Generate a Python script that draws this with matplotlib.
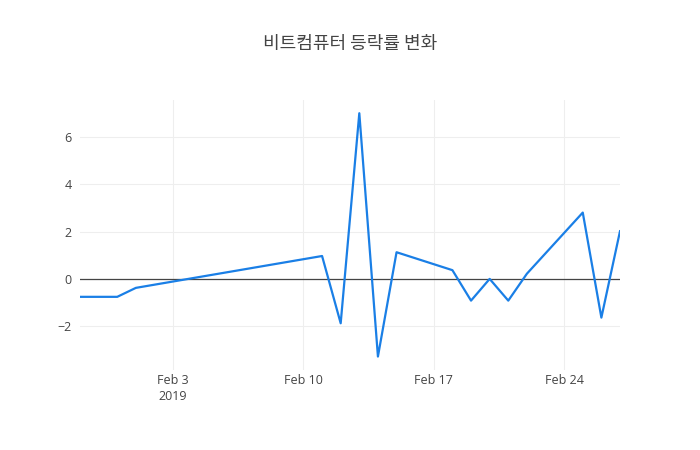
import matplotlib
matplotlib.use('Agg')
import matplotlib.pyplot as plt
import pandas as pd

plt.rcParams['font.family'] = ['Open Sans', 'Noto Sans CJK KR', 'DejaVu Sans']

# data
dates = ['2019-01-29', '2019-01-31', '2019-02-01', '2019-02-11', '2019-02-12',
         '2019-02-13', '2019-02-14', '2019-02-15', '2019-02-18', '2019-02-19',
         '2019-02-20', '2019-02-21', '2019-02-22', '2019-02-25', '2019-02-26',
         '2019-02-27']
change = [-0.76, -0.76, -0.38, 0.97, -1.88, 7.02, -3.29, 1.13, 0.37, -0.92,
          0.0, -0.92, 0.22, 2.81, -1.64, 2.02]
title = '비트컴퓨터 등락률 변화'
tick_dates = ['2019-02-03', '2019-02-10', '2019-02-17', '2019-02-24']
tick_labels = ['Feb 3\n2019', 'Feb 10', 'Feb 17', 'Feb 24']
y_ticks = [-2, 0, 2, 4, 6]

x = pd.to_datetime(dates)

fig = plt.figure(figsize=(7, 4.5), dpi=100)
ax = fig.add_axes([80 / 700, 80 / 450, 540 / 700, 270 / 450])

ax.plot(x, change, color='#1A7FE6', linewidth=1.6, zorder=3)
ax.axhline(0, color='#444444', linewidth=0.9, zorder=2)

ax.set_xlim(x[0], x[-1])
ax.set_ylim(-3.86, 7.58)
ax.set_xticks(pd.to_datetime(tick_dates))
ax.set_xticklabels(tick_labels, linespacing=1.25)
ax.set_yticks(y_ticks)
ax.set_yticklabels(['\u22122', '0', '2', '4', '6'])

ax.grid(True, color='#EEEEEE', linewidth=0.8, zorder=0)
for s in ax.spines.values():
    s.set_visible(False)
ax.tick_params(length=0, labelsize=9, colors='#444444', pad=6)
ax.tick_params(axis='x', pad=3)

fig.text(0.5, 1 - 44 / 450, title, ha='center', va='center', fontsize=13,
         color='#444444', family=['Noto Sans CJK KR', 'DejaVu Sans'])

fig.savefig('out.png', dpi=100)
